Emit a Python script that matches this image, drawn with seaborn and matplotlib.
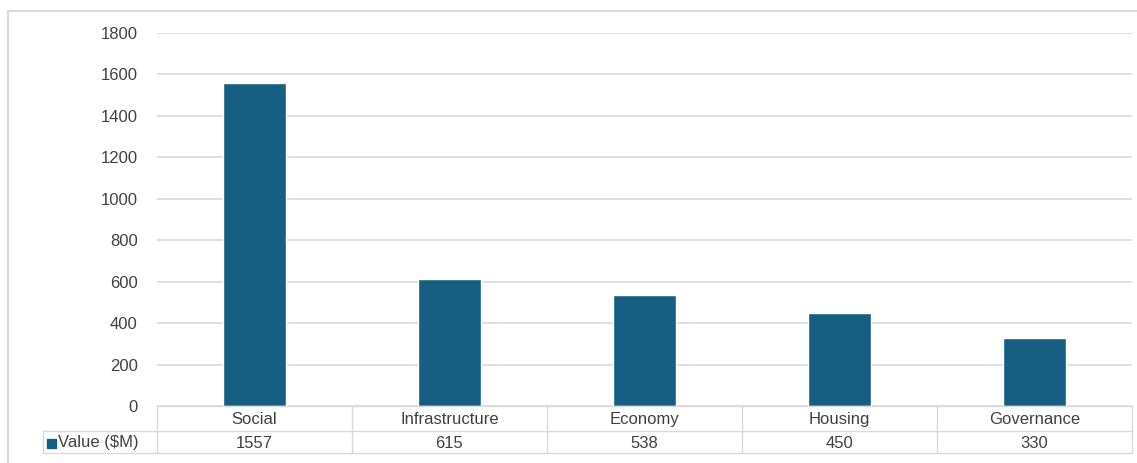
import matplotlib
matplotlib.use("Agg")
import matplotlib.pyplot as plt
import seaborn as sns
import pandas as pd
from matplotlib.lines import Line2D
from matplotlib.patches import Rectangle

categories = ["Social", "Infrastructure", "Economy", "Housing", "Governance"]
values = [1557, 615, 538, 450, 330]
series_name = "Value ($M)"
y_ticks = [0, 200, 400, 600, 800, 1000, 1200, 1400, 1600, 1800]

bar_color = "#175f82"
grid_color = "#d9d9d9"
text_color = "#404040"
fs = 12

sns.set_style("white")
plt.rcParams["font.family"] = ["Liberation Sans", "DejaVu Sans"]

df = pd.DataFrame({"Category": categories, "Value": values})

W, H = 1137, 463
fig = plt.figure(figsize=(W / 100, H / 100), dpi=100)

# plot area in pixel coordinates
x0, x1 = 157, 1132
y_top, y_bot = 33, 406
ax = fig.add_axes([x0 / W, 1 - y_bot / H, (x1 - x0) / W, (y_bot - y_top) / H])

sns.barplot(data=df, x="Category", y="Value", color=bar_color, width=0.32,
            saturation=1, ax=ax, zorder=3)
ax.set_ylim(0, 1800)
ax.set_yticks(y_ticks)
ax.set_xlim(-0.5, len(categories) - 0.5)
ax.set_xticks([])
ax.set_xlabel("")
ax.set_ylabel("")
ax.grid(axis="y", color=grid_color, linewidth=1.2, zorder=0)
for s in ax.spines.values():
    s.set_visible(False)
ax.tick_params(axis="y", length=0, pad=14, labelsize=fs, labelcolor=text_color)

# data table under the plot
def fx(px):
    return px / W

def fy(py):
    return 1 - py / H

row1, row2, row3 = 406, 431, 453
tbl_left = 43
cell_w = (x1 - x0) / len(categories)
lw = 1.0
fig.add_artist(Line2D([fx(x0), fx(x1)], [fy(row1)] * 2, color=grid_color, lw=lw))
fig.add_artist(Line2D([fx(tbl_left), fx(x1)], [fy(row2)] * 2, color=grid_color, lw=lw))
fig.add_artist(Line2D([fx(tbl_left), fx(x1)], [fy(row3)] * 2, color=grid_color, lw=lw))
fig.add_artist(Line2D([fx(tbl_left)] * 2, [fy(row2), fy(row3)], color=grid_color, lw=lw))
for i in range(len(categories) + 1):
    xp = x0 + i * cell_w
    fig.add_artist(Line2D([fx(xp)] * 2, [fy(row1), fy(row3)], color=grid_color, lw=lw))

for i, (cat, val) in enumerate(zip(categories, values)):
    xc = x0 + (i + 0.5) * cell_w
    fig.text(fx(xc), fy((row1 + row2) / 2 + 1), cat, ha="center", va="center",
             fontsize=fs, color=text_color)
    fig.text(fx(xc), fy((row2 + row3) / 2 + 1), str(val), ha="center", va="center",
             fontsize=fs, color=text_color)

# legend key in the table
fig.add_artist(Rectangle((fx(47), fy(448)), 9 / W, 9 / H, color=bar_color,
                         transform=fig.transFigure))
fig.text(fx(58), fy((row2 + row3) / 2 + 1), series_name, ha="left", va="center",
         fontsize=fs, color=text_color)

# outer frame
fig.add_artist(Line2D([fx(8), 1], [fy(11)] * 2, color=grid_color, lw=1.5))
fig.add_artist(Line2D([fx(8)] * 2, [fy(11), 0], color=grid_color, lw=1.5))

fig.savefig("out.png", dpi=100)
